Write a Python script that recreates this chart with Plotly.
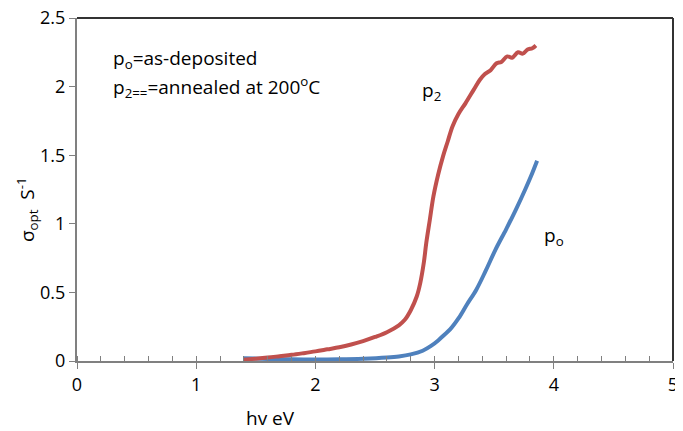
import plotly.graph_objects as go

# p2 (annealed at 200 C)
p2_x = [1.40, 1.50, 1.60, 1.70, 1.80, 1.90, 2.00, 2.10, 2.20, 2.30, 2.40, 2.50, 2.60, 2.70, 2.75, 2.80, 2.85, 2.88, 2.91, 2.93, 2.96, 2.99, 3.03, 3.07, 3.11, 3.15, 3.20, 3.26, 3.33, 3.38, 3.42, 3.47, 3.52, 3.56, 3.61, 3.65, 3.70, 3.74, 3.78, 3.82, 3.85]
p2_y = [0.010, 0.017, 0.025, 0.035, 0.045, 0.057, 0.070, 0.085, 0.100, 0.120, 0.145, 0.175, 0.210, 0.260, 0.300, 0.370, 0.470, 0.570, 0.720, 0.860, 1.030, 1.200, 1.360, 1.490, 1.600, 1.710, 1.800, 1.880, 1.980, 2.050, 2.090, 2.120, 2.170, 2.180, 2.220, 2.210, 2.250, 2.240, 2.270, 2.280, 2.300]

# po (as-deposited)
po_x = [1.40, 1.60, 1.80, 2.00, 2.20, 2.40, 2.60, 2.70, 2.80, 2.90, 2.97, 3.03, 3.08, 3.13, 3.20, 3.27, 3.35, 3.43, 3.51, 3.60, 3.68, 3.76, 3.81, 3.86]
po_y = [0.020, 0.015, 0.012, 0.011, 0.012, 0.016, 0.025, 0.033, 0.048, 0.075, 0.110, 0.150, 0.190, 0.230, 0.310, 0.410, 0.520, 0.660, 0.810, 0.960, 1.100, 1.250, 1.350, 1.460]

x_ticks = [0, 1, 2, 3, 4, 5]
y_ticks = [0, 0.5, 1, 1.5, 2, 2.5]

RED = "#C0504D"
BLUE = "#4F81BD"
FONT = "Open Sans, Liberation Sans, sans-serif"
TICK_FS = 18
ANN_FS = 19

# page has an 8px body margin; plot area in page coords: x 77..673, y 18..361
L, T = 77 - 8, 18 - 8
W, H = 683 - 8, 431 - 8
PW, PH = 673 - 77, 361 - 18
B = H - T - PH

fig = go.Figure()
fig.add_trace(go.Scatter(x=po_x, y=po_y, mode="lines", line=dict(color=BLUE, width=4, shape="spline"), name="po"))
fig.add_trace(go.Scatter(x=p2_x, y=p2_y, mode="lines", line=dict(color=RED, width=4, shape="spline"), name="p2"))

axis_common = dict(showgrid=False, zeroline=False,
                   showline=True, linecolor="#808080", linewidth=2,
                   ticks="outside", ticklen=6, tickcolor="#808080", tickwidth=1,
                   tickfont=dict(size=TICK_FS), ticklabeloverflow="allow")

fig.update_layout(
    width=W, height=H,
    margin=dict(l=L, r=W - L - PW, t=T, b=B, autoexpand=False),
    paper_bgcolor="white", plot_bgcolor="white",
    showlegend=False,
    font=dict(family=FONT, size=ANN_FS, color="black"),
    xaxis=dict(range=[0, 5], tickvals=x_ticks,
               minor=dict(dtick=0.2, ticks="inside", ticklen=5, tickcolor="#808080"),
               **axis_common),
    yaxis=dict(range=[0, 2.5], tickvals=y_ticks, **axis_common),
)

# top and right border
fig.add_shape(type="line", xref="paper", yref="paper", x0=0, x1=1, y0=1, y1=1, line=dict(color="#333333", width=2))
fig.add_shape(type="line", xref="paper", yref="paper", x0=1, x1=1, y0=0, y1=1, line=dict(color="#333333", width=2))

def px(x):
    return (x - 77) / PW

def py(y):
    return (361 - y) / PH

fig.add_annotation(xref="paper", yref="paper", x=px(111), y=py(59), xanchor="left", yanchor="middle",
                   text="p<sub>o</sub>=as-deposited", showarrow=False)
fig.add_annotation(xref="paper", yref="paper", x=px(111), y=py(87), xanchor="left", yanchor="middle",
                   text="p<sub>2==</sub>=annealed at 200<sup>o</sup>C", showarrow=False)
fig.add_annotation(xref="paper", yref="paper", x=px(420), y=py(91), xanchor="left", yanchor="middle",
                   text="p<sub>2</sub>", showarrow=False)
fig.add_annotation(xref="paper", yref="paper", x=px(542), y=py(236), xanchor="left", yanchor="middle",
                   text="p<sub>o</sub>", showarrow=False)
fig.add_annotation(xref="paper", yref="paper", x=px(244), y=py(418), xanchor="left", yanchor="middle",
                   text="hv eV", showarrow=False)
fig.add_annotation(xref="paper", yref="paper", x=px(27), y=py(210), xanchor="center", yanchor="middle",
                   text="σ<sub>opt</sub>  S<sup>-1</sup>", textangle=-90, showarrow=False)

fig.write_html("out.html")
